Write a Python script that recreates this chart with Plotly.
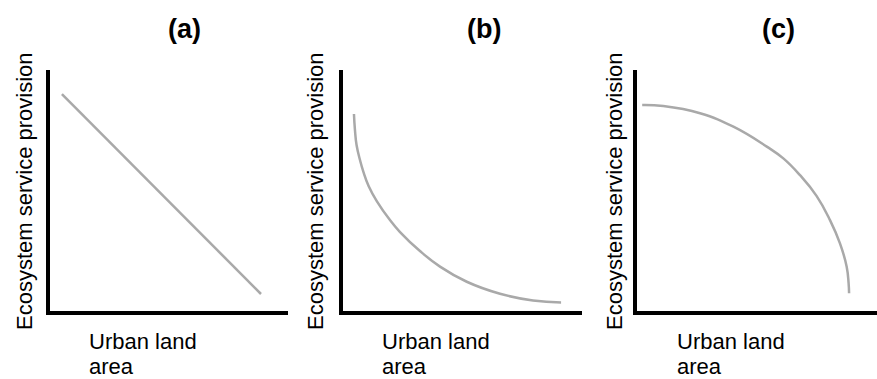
import plotly.graph_objects as go

# ---- data (arbitrary 0-100 units) ----
a_x = [5.8, 88.75]
a_y = [90.8, 7.5]

b_x = [5.4, 5.8, 6.5, 8.0, 9.3, 11.5, 14.9, 20.4, 24.6, 32.9, 41.25, 52.4, 66.25, 80.0, 91.7]
b_y = [82.5, 76.0, 69.5, 63.0, 58.5, 52.5, 46.2, 38.3, 33.3, 25.4, 18.9, 12.6, 7.6, 4.8, 4.0]

c_x = [3.0, 11.8, 27.1, 41.0, 54.9, 61.8, 68.75, 75.7, 81.25, 85.4, 88.2, 89.0, 89.2]
c_y = [86.25, 85.8, 82.8, 77.2, 68.9, 64.0, 57.0, 48.3, 38.3, 28.6, 18.9, 12.0, 7.8]

panel_titles = ["(a)", "(b)", "(c)"]
y_title = "Ecosystem service provision"
x_title_lines = ["Urban land", "area"]

W, H = 877, 379
FONT = "Arial, Liberation Sans, sans-serif"
LINE_COLOR = "#a9a9a9"

# pixel geometry of each panel: (left, right, top, bottom) of plot area
panels = [(49.5, 288, 70, 311), (343, 582, 70, 311), (637, 877, 70, 311)]
# pixel location of axis origin (for data-range mapping)
origins = [48, 341, 635]
y_origin_px = 312
scale = 2.4  # px per data unit

series = [(a_x, a_y, "linear"), (b_x, b_y, "spline"), (c_x, c_y, "spline")]

fig = go.Figure()
layout = dict(
    width=W, height=H,
    margin=dict(l=0, r=0, t=0, b=0),
    paper_bgcolor="white", plot_bgcolor="white",
    showlegend=False,
    font=dict(family=FONT, color="black"),
    annotations=[],
)

for i, ((l, r, t, b), ox, (xs, ys, shape)) in enumerate(zip(panels, origins, series)):
    n = "" if i == 0 else str(i + 1)
    xr = [(l - ox) / scale, (r - ox) / scale]
    yr = [(y_origin_px - b) / scale, (y_origin_px - t) / scale]
    layout["xaxis" + n] = dict(
        domain=[l / W, r / W], range=xr, anchor="y" + n,
        showline=True, linecolor="black", linewidth=4,
        showgrid=False, zeroline=False, showticklabels=False, ticks="",
    )
    layout["yaxis" + n] = dict(
        domain=[1 - b / H, 1 - t / H], range=yr, anchor="x" + n,
        showline=True, linecolor="black", linewidth=4,
        showgrid=False, zeroline=False, showticklabels=False, ticks="",
    )
    fig.add_trace(go.Scatter(
        x=xs, y=ys, mode="lines", xaxis="x" + n, yaxis="y" + n,
        line=dict(color=LINE_COLOR, width=2.5, shape=shape, smoothing=1.3),
        hoverinfo="skip",
    ))

title_x = [184, 484, 778]
ylab_x = [24, 315, 614]
xlab_x = [88, 381, 676]
xlab_y = [341, 366]
for i in range(3):
    layout["annotations"].append(dict(
        text="<b>%s</b>" % panel_titles[i], xref="paper", yref="paper",
        x=title_x[i] / W, y=1 - 29 / H, xanchor="center", yanchor="middle",
        showarrow=False, font=dict(size=27, family=FONT, color="black"),
    ))
    layout["annotations"].append(dict(
        text=y_title, xref="paper", yref="paper", textangle=-90,
        x=ylab_x[i] / W, y=1 - 191 / H, xanchor="center", yanchor="middle",
        showarrow=False, font=dict(size=22, family=FONT, color="black"),
    ))
    for line_txt, ly in zip(x_title_lines, xlab_y):
        layout["annotations"].append(dict(
            text=line_txt, xref="paper", yref="paper", align="left",
            x=xlab_x[i] / W, y=1 - ly / H, xanchor="left", yanchor="middle",
            borderpad=0, showarrow=False,
            font=dict(size=22, family=FONT, color="black"),
        ))

fig.update_layout(**layout)
fig.write_html(
    "out.html",
    config={"displayModeBar": False},
    post_script="document.body.style.margin='0';document.body.style.overflow='hidden';",
)
